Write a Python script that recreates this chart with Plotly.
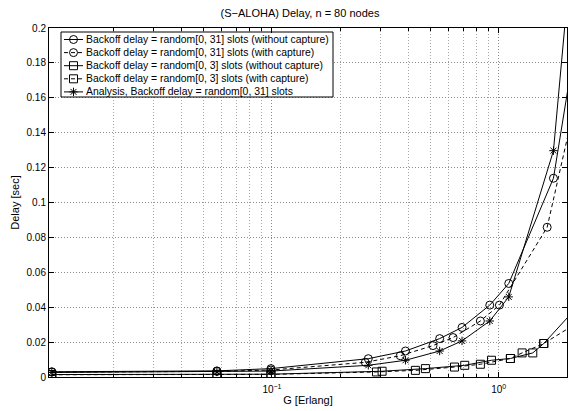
import plotly.graph_objects as go

# ---- data ----
G_c31_nocap = [0.0107, 0.0572, 0.099, 0.266, 0.388, 0.549, 0.689, 0.913, 1.107, 1.743, 2.4]
D_c31_nocap = [0.0030, 0.0035, 0.0048, 0.0105, 0.0149, 0.0220, 0.0284, 0.0412, 0.0536, 0.1139, 0.2255]

G_c31_cap = [0.0107, 0.0572, 0.099, 0.258, 0.368, 0.513, 0.629, 0.830, 1.007, 1.635, 2.4]
D_c31_cap = [0.0028, 0.0032, 0.0040, 0.0084, 0.0122, 0.0180, 0.0226, 0.0321, 0.0412, 0.0858, 0.1817]

G_c3_nocap = [0.0107, 0.0572, 0.099, 0.306, 0.475, 0.708, 0.929, 1.126, 1.413, 1.580, 2.4]
D_c3_nocap = [0.0014, 0.0015, 0.0016, 0.0033, 0.0048, 0.0067, 0.0096, 0.0106, 0.0138, 0.0192, 0.0450]

G_c3_cap = [0.0107, 0.0572, 0.099, 0.289, 0.429, 0.638, 0.830, 1.126, 1.268, 1.580, 2.4]
D_c3_cap = [0.0013, 0.0014, 0.0015, 0.0029, 0.0038, 0.0057, 0.0073, 0.0106, 0.0138, 0.0192, 0.0337]

G_analysis = [0.0107, 0.0572, 0.099, 0.266, 0.388, 0.549, 0.689, 0.913, 1.107, 1.743, 2.4]
D_analysis = [0.0026, 0.0029, 0.0034, 0.0067, 0.0096, 0.0149, 0.0207, 0.0321, 0.0459, 0.1297, 0.328]

names = [
    "Backoff delay = random[0, 31] slots (without capture)",
    "Backoff delay = random[0, 31] slots (with capture)",
    "Backoff delay = random[0, 3] slots (without capture)",
    "Backoff delay = random[0, 3] slots (with capture)",
    "Analysis, Backoff delay = random[0, 31] slots",
]

x_major_vals = [0.1, 1]
x_major_text = ["10<sup>−1</sup>", "10<sup>0</sup>"]
x_minor_vals = [0.02, 0.03, 0.04, 0.05, 0.06, 0.07, 0.08, 0.09,
                0.2, 0.3, 0.4, 0.5, 0.6, 0.7, 0.8, 0.9, 2]
y_tick_vals = [0, 0.02, 0.04, 0.06, 0.08, 0.1, 0.12, 0.14, 0.16, 0.18, 0.2]
y_tick_text = ["0", "0.02", "0.04", "0.06", "0.08", "0.1", "0.12", "0.14", "0.16", "0.18", "0.2"]

FONT = "Liberation Sans, Arial, sans-serif"
DASH = "4px,3px"
GRID_DASH = "1px,2px"

styles = [
    ("solid", "circle-open", 8),
    (DASH, "circle-open", 8),
    ("solid", "square-open", 8),
    (DASH, "square-open", 8),
    ("solid", "asterisk-open", 7),
]
data = [
    (G_c31_nocap, D_c31_nocap),
    (G_c31_cap, D_c31_cap),
    (G_c3_nocap, D_c3_nocap),
    (G_c3_cap, D_c3_cap),
    (G_analysis, D_analysis),
]

X_RANGE_LOG = [-1.983, 0.301]
Y_RANGE = [0, 0.2]

# plot-area geometry in pixels
W, H = 572, 411
ML, MR, MT, MB = 49, 5, 28, 34
PX0, PX1 = ML, W - MR
PY0, PY1 = MT, H - MB

# ---- legend layout (MATLAB style compact box), in pixels ----
LEG_X0, LEG_X1 = 61, 333
LEG_Y0, LEG_Y1 = 32, 97
ROW0, ROW_STEP = 39.5, 13.1
SAMPLE_X0, SAMPLE_X1 = 64, 83
TEXT_X = 84


def px_to_x(px):
    f = (px - PX0) / (PX1 - PX0)
    return 10 ** (X_RANGE_LOG[0] + f * (X_RANGE_LOG[1] - X_RANGE_LOG[0]))


def py_to_y(py):
    f = (PY1 - py) / (PY1 - PY0)
    return Y_RANGE[0] + f * (Y_RANGE[1] - Y_RANGE[0])


fig = go.Figure()

# legend box (white, above gridlines, below everything else)
bx = [px_to_x(v) for v in (LEG_X0, LEG_X1, LEG_X1, LEG_X0, LEG_X0)]
by = [py_to_y(v) for v in (LEG_Y0, LEG_Y0, LEG_Y1, LEG_Y1, LEG_Y0)]
fig.add_trace(go.Scatter(x=bx, y=by, mode="lines", fill="toself", fillcolor="white",
                         line=dict(color="black", width=1), showlegend=False,
                         hoverinfo="skip"))

for (gx, dy), (dash, sym, sz), nm in zip(data, styles, names):
    fig.add_trace(go.Scatter(
        x=gx, y=dy, name=nm, mode="lines+markers", showlegend=False,
        line=dict(color="black", width=1, dash=dash),
        marker=dict(symbol=sym, size=sz, color="black",
                    line=dict(color="black", width=1)),
    ))

for i, ((dash, sym, sz), nm) in enumerate(zip(styles, names)):
    ry = ROW0 + i * ROW_STEP
    fig.add_trace(go.Scatter(
        x=[SAMPLE_X0, SAMPLE_X1], y=[ry, ry], xaxis="x2", yaxis="y2",
        mode="lines", showlegend=False, hoverinfo="skip",
        line=dict(color="black", width=1, dash=dash)))
    fig.add_trace(go.Scatter(
        x=[(SAMPLE_X0 + SAMPLE_X1) / 2], y=[ry], xaxis="x2", yaxis="y2",
        mode="markers", showlegend=False, hoverinfo="skip",
        marker=dict(symbol=sym, size=sz, color="black",
                    line=dict(color="black", width=1))))
    fig.add_annotation(x=TEXT_X, y=ry, xref="x2", yref="y2", text=nm,
                       showarrow=False, xanchor="left", yanchor="middle",
                       font=dict(family=FONT, size=10.4, color="black"))

fig.update_layout(
    width=W, height=H,
    margin=dict(l=ML, r=MR, t=MT, b=MB),
    paper_bgcolor="white", plot_bgcolor="white",
    font=dict(family=FONT, size=10, color="black"),
    title=dict(text="(S−ALOHA) Delay, n = 80 nodes", x=300 / W, xref="container",
               xanchor="center", y=1 - 13 / H, yref="container", yanchor="middle",
               font=dict(family=FONT, size=11, color="black")),
    showlegend=False,
    xaxis2=dict(overlaying="x", anchor="y2", range=[PX0, PX1], visible=False, fixedrange=True),
    yaxis2=dict(overlaying="y", anchor="x2", range=[PY1, PY0], visible=False, fixedrange=True),
)

fig.layout.xaxis.update(
    type="log", range=X_RANGE_LOG,
    tickmode="array", tickvals=x_major_vals, ticktext=x_major_text,
    ticks="inside", ticklen=5, tickcolor="black", tickwidth=1,
    showline=True, linecolor="black", linewidth=1, mirror="allticks",
    showgrid=True, gridcolor="#8c8c8c", griddash=GRID_DASH, gridwidth=1,
    zeroline=False, ticklabelstandoff=3,
    minor=dict(tickmode="array", tickvals=x_minor_vals, ticks="inside", ticklen=3,
               tickcolor="black", showgrid=True, gridcolor="#a8a8a8", griddash=GRID_DASH,
               gridwidth=1),
    tickfont=dict(family=FONT, size=10),
    title=dict(text="G [Erlang]", font=dict(family=FONT, size=11), standoff=2),
)
fig.layout.yaxis.update(
    range=Y_RANGE, tickmode="array", tickvals=y_tick_vals, ticktext=y_tick_text,
    ticks="inside", ticklen=5, tickcolor="black", tickwidth=1,
    showline=True, linecolor="black", linewidth=1, mirror="allticks",
    showgrid=True, gridcolor="#8c8c8c", griddash=GRID_DASH, gridwidth=1,
    zeroline=False,
    tickfont=dict(family=FONT, size=10),
    title=dict(text="Delay [sec]", font=dict(family=FONT, size=11), standoff=4),
)

fig.write_html("out.html")
